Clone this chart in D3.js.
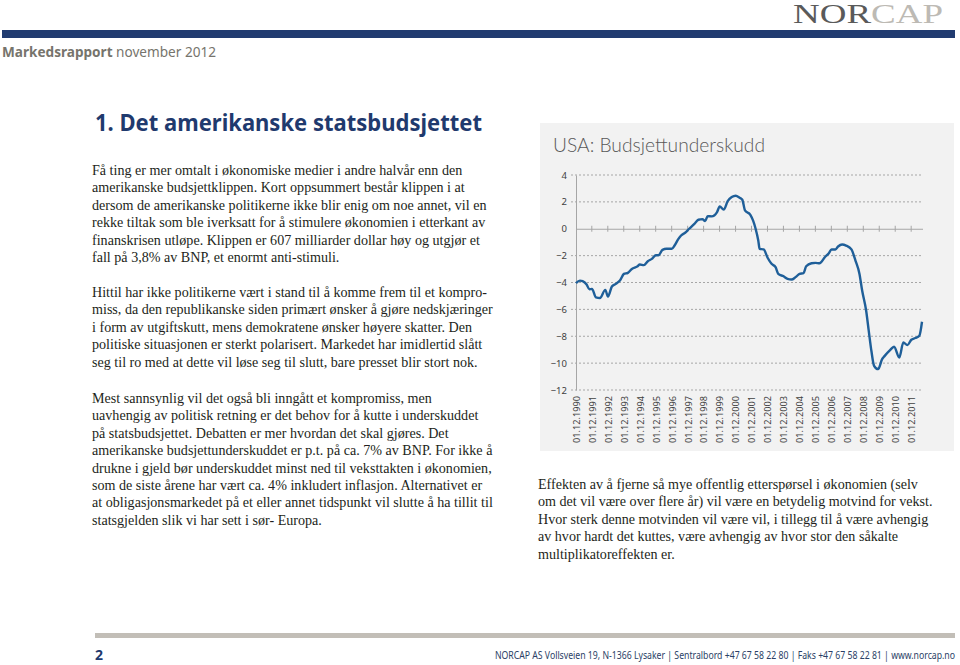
<!DOCTYPE html>
<html>
<head>
<meta charset="utf-8">
<script src="https://cdn.jsdelivr.net/npm/d3@7"></script>
<style>
  html, body { margin: 0; padding: 0; background: #ffffff; }
  svg { display: block; }
</style>
</head>
<body>
<svg id="page" width="960" height="665"></svg>
<script>
// ---------------- DATA ----------------
const chartTitle = "USA: Budsjettunderskudd";
const months = ["1990-12","1991-03","1991-05","1991-08","1991-10","1991-12","1992-03","1992-06","1992-10","1992-12",
  "1993-03","1993-06","1993-09","1993-12","1994-03","1994-06","1994-10","1994-12","1995-03","1995-06",
  "1995-09","1995-12","1996-02","1996-05","1996-08","1996-12","1997-02","1997-05","1997-07","1997-10",
  "1998-01","1998-05","1998-08","1998-11","1999-01","1999-03","1999-06","1999-10","1999-12","2000-03",
  "2000-06","2000-09","2000-12","2001-03","2001-05","2001-07","2001-11","2002-01","2002-03","2002-05",
  "2002-06","2002-09","2002-12","2003-03","2003-06","2003-08","2003-12","2004-03","2004-06","2004-09",
  "2004-12","2005-03","2005-05","2005-09","2005-12","2006-03","2006-07","2006-10","2006-12","2007-03",
  "2007-05","2007-08","2007-11","2008-03","2008-06","2008-09","2008-11","2009-02","2009-04","2009-06",
  "2009-08","2009-11","2010-02","2010-04","2010-08","2010-11","2011-03","2011-06","2011-09","2011-12",
  "2012-03","2012-06","2012-08"];
const deficit = [-4.05,-3.86,-3.9,-4.15,-4.5,-4.48,-5.1,-5.15,-4.55,-5.05,
  -4.3,-4.1,-3.86,-3.36,-3.28,-2.99,-2.81,-2.66,-2.71,-2.42,
  -2.24,-1.97,-1.97,-1.57,-1.49,-1.49,-1.25,-0.75,-0.5,-0.3,
  0.0,0.37,0.67,0.72,0.57,0.94,0.92,1.24,1.66,1.42,
  2.06,2.36,2.46,2.31,2.16,1.37,1.04,0.62,0.0,-0.87,
  -1.49,-1.54,-2.16,-2.61,-2.86,-3.36,-3.54,-3.73,-3.78,-3.6,
  -3.36,-3.31,-2.79,-2.57,-2.54,-2.57,-2.12,-1.82,-1.54,-1.54,
  -1.32,-1.17,-1.25,-1.54,-2.37,-3.36,-4.6,-6.1,-7.6,-9.1,
  -10.2,-10.45,-9.7,-9.46,-9.03,-8.78,-9.58,-8.46,-8.66,-8.26,
  -8.13,-7.96,-6.92];
const yTicks = [4,2,0,-2,-4,-6,-8,-10,-12];
const xLabelYears = d3.range(1990, 2012);          // 01.12.1990 ... 01.12.2011
const tickYears = d3.range(1991, 2012);            // category boundaries

const para1 = ["Få ting er mer omtalt i økonomiske medier i andre halvår enn den",
  "amerikanske budsjettklippen. Kort oppsummert består klippen i at",
  "dersom de amerikanske politikerne ikke blir enig om noe annet, vil en",
  "rekke tiltak som ble iverksatt for å stimulere økonomien i etterkant av",
  "finanskrisen utløpe. Klippen er 607 milliarder dollar høy og utgjør et",
  "fall på 3,8% av BNP, et enormt anti-stimuli."];
const para2 = ["Hittil har ikke politikerne vært i stand til å komme frem til et kompro-",
  "miss, da den republikanske siden primært ønsker å gjøre nedskjæringer",
  "i form av utgiftskutt, mens demokratene ønsker høyere skatter. Den",
  "politiske situasjonen er sterkt polarisert. Markedet har imidlertid slått",
  "seg til ro med at dette vil løse seg til slutt, bare presset blir stort nok."];
const para3 = ["Mest sannsynlig vil det også bli inngått et kompromiss, men",
  "uavhengig av politisk retning er det behov for å kutte i underskuddet",
  "på statsbudsjettet. Debatten er mer hvordan det skal gjøres. Det",
  "amerikanske budsjettunderskuddet er p.t. på ca. 7% av BNP. For ikke å",
  "drukne i gjeld bør underskuddet minst ned til veksttakten i økonomien,",
  "som de siste årene har vært ca. 4% inkludert inflasjon. Alternativet er",
  "at obligasjonsmarkedet på et eller annet tidspunkt vil slutte å ha tillit til",
  "statsgjelden slik vi har sett i sør- Europa."];
const para4 = ["Effekten av å fjerne så mye offentlig etterspørsel i økonomien (selv",
  "om det vil være over flere år) vil være en betydelig motvind for vekst.",
  "Hvor sterk denne motvinden vil være vil, i tillegg til å være avhengig",
  "av hvor hardt det kuttes, være avhengig av hvor stor den såkalte",
  "multiplikatoreffekten er."];

// ---------------- PAGE ----------------
const svg = d3.select("#page");
const navy = "#1f3a6e";
const bodyColor = "#231f20";
const serif = "'Liberation Serif', 'Times New Roman', serif";
const sans = "'Noto Sans', 'Open Sans', sans-serif";

// top bar
svg.append("rect").attr("x", 2).attr("y", 30).attr("width", 953).attr("height", 8)
  .style("fill", "#213b70");

// logo
const logo = svg.append("text").attr("x", 793).attr("y", 23)
  .attr("font-family", serif).attr("font-size", 27)
  .attr("textLength", 150).attr("lengthAdjust", "spacingAndGlyphs");
logo.append("tspan").attr("fill", "#5a5a5a").text("NOR");
logo.append("tspan").attr("fill", "#bdbab4").text("CAP");

// header line
const hdr = svg.append("text").attr("x", 2).attr("y", 57)
  .attr("font-family", sans).attr("font-size", 14.5).attr("fill", "#76746c")
  .attr("textLength", 214).attr("lengthAdjust", "spacingAndGlyphs");
hdr.append("tspan").attr("font-weight", "bold").text("Markedsrapport");
hdr.append("tspan").text(" november 2012");

// heading
svg.append("text").attr("x", 95).attr("y", 131)
  .attr("font-family", sans).attr("font-size", 24).attr("font-weight", "bold")
  .attr("fill", navy).attr("textLength", 387).attr("lengthAdjust", "spacingAndGlyphs")
  .text("1. Det amerikanske statsbudsjettet");

function paragraph(lines, x, y0, lh) {
  const g = svg.append("g");
  g.selectAll("text").data(lines).join("text")
    .attr("x", x).attr("y", (d, i) => y0 + i * lh)
    .attr("font-family", serif).attr("font-size", 14.1).attr("fill", bodyColor)
    .text(d => d);
}
paragraph(para1, 92, 175, 17.4);
paragraph(para2, 92, 297, 17.4);
paragraph(para3, 92, 403, 17.4);
paragraph(para4, 538, 489, 17.4);

// footer
svg.append("rect").attr("x", 95).attr("y", 633).attr("width", 860).attr("height", 5).style("fill", "#c2beb7");
svg.append("text").attr("x", 95).attr("y", 660).attr("font-family", sans).attr("font-size", 14)
  .attr("font-weight", "bold").attr("fill", navy).text("2");
svg.append("text").attr("transform", "translate(955,659) scale(0.87,1)").attr("text-anchor", "end")
  .attr("font-family", sans).attr("font-size", 10).attr("fill", "#2b3f66")
  .text("NORCAP AS Vollsveien 19, N-1366 Lysaker | Sentralbord +47 67 58 22 80 | Faks +47 67 58 22 81 | www.norcap.no");

// ---------------- CHART ----------------
const panel = {x: 540, y: 123, w: 414, h: 328};
svg.append("rect").attr("x", panel.x).attr("y", panel.y).attr("width", panel.w).attr("height", panel.h)
  .attr("fill", "#f2f2f2");

svg.append("text").attr("x", 553).attr("y", 152)
  .attr("font-family", "Lato, 'Open Sans', sans-serif").attr("font-weight", 300)
  .attr("font-size", 20).attr("fill", "#595959")
  .attr("textLength", 212).attr("lengthAdjust", "spacingAndGlyphs")
  .text(chartTitle);

const parse = d3.timeParse("%Y-%m");
const data = months.map((m, i) => ({date: parse(m), value: deficit[i]}));

const x = d3.scaleTime().domain([parse("1990-12"), parse("2012-08")]).range([576, 922]);
const y = d3.scaleLinear().domain([-12, 4]).range([390, 175]);
const plotRight = 923;

// dotted gridlines (with small left stubs)
svg.append("g").selectAll("line").data(yTicks.filter(v => v !== 0)).join("line")
  .attr("x1", 571).attr("x2", plotRight)
  .attr("y1", d => y(d)).attr("y2", d => y(d))
  .attr("stroke", "#a6a6a6").attr("stroke-width", 1).attr("stroke-dasharray", "2,2");

// y axis
const yAxis = svg.append("g").attr("transform", "translate(576,0)")
  .call(d3.axisLeft(y).tickValues(yTicks).tickSize(0).tickPadding(9).tickFormat(d3.format("d")));
yAxis.select(".domain").attr("stroke", "#a6a6a6");
yAxis.selectAll("text").attr("font-family", sans).attr("font-size", 9.5).attr("fill", "#404040");

// x axis at zero with crossing ticks
const tickDates = tickYears.map(yr => new Date(yr, 10, 16));
const xAxis0 = svg.append("g").attr("transform", `translate(0,${y(0)})`)
  .call(d3.axisBottom(x).tickValues(tickDates).tickFormat("").tickSizeOuter(0));
xAxis0.select(".domain").attr("d", `M576,0.5H${plotRight}`).attr("stroke", "#a6a6a6");
xAxis0.selectAll(".tick line").attr("y1", -3).attr("y2", 3).attr("stroke", "#a6a6a6");

// category labels along the bottom
const labelDates = xLabelYears.map(yr => new Date(yr, 11, 1));
const fmt = d3.timeFormat("%d.%m.%Y");
const xAxisL = svg.append("g").attr("transform", `translate(0,${y(-12)})`)
  .call(d3.axisBottom(x).tickValues(labelDates).tickFormat(fmt).tickSize(0));
xAxisL.select(".domain").remove();
xAxisL.selectAll("text")
  .attr("font-family", sans).attr("font-size", 9.2).attr("fill", "#404040")
  .attr("transform", "rotate(-90)")
  .attr("text-anchor", "end")
  .attr("x", -6).attr("y", 0).attr("dy", "0.35em");

// line
svg.append("path").datum(data)
  .attr("fill", "none").attr("stroke", "#1f5f99").attr("stroke-width", 2.4)
  .attr("stroke-linejoin", "round")
  .attr("d", d3.line().x(d => x(d.date)).y(d => y(d.value)).curve(d3.curveMonotoneX));
</script>
</body>
</html>
